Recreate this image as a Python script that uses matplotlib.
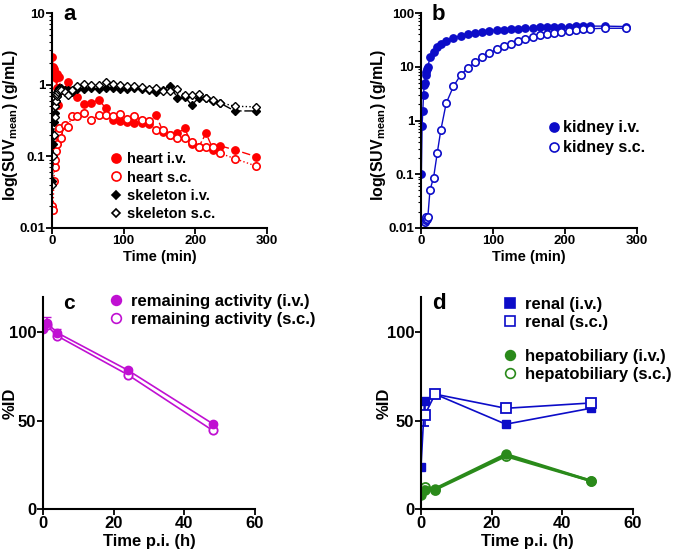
import numpy as np
import matplotlib
matplotlib.use("Agg")
import matplotlib.pyplot as plt
from matplotlib.lines import Line2D

plt.rcParams['font.family'] = ['Liberation Sans', 'DejaVu Sans']
plt.rcParams['font.weight'] = 'bold'
plt.rcParams['axes.labelweight'] = 'bold'
plt.rcParams['mathtext.fontset'] = 'custom'
plt.rcParams['mathtext.bf'] = 'Liberation Sans:bold'
plt.rcParams['mathtext.rm'] = 'Liberation Sans:bold'

# frame mid-times (min) for the PET time-activity curves
t_min = [0.5, 1.5, 2.5, 3.5, 4.5, 5.5, 6.5, 7.5, 8.5, 9.5,
         12.5, 17.5, 22.5, 27.5, 35, 45, 55, 65, 75, 85, 95, 105, 115,
         125, 135, 145, 155, 165, 175, 185, 195, 205, 215, 225, 235, 255, 285]

heart_iv = [2.45, 1.75, 1.65, 1.45, 1.35, 1.25, 0.9, 1.4, 0.52, 1.3,
            0.85, 0.85, 1.1, 0.82, 0.68, 0.54, 0.55, 0.62, 0.47, 0.32, 0.31, 0.30, 0.29,
            0.29, 0.28, 0.38, 0.22, 0.20, 0.21, 0.245, 0.15, 0.137, 0.21, 0.123, 0.14, 0.123, 0.099]
heart_sc = [0.02, 0.018, 0.045, 0.07, 0.09, 0.12, 0.15, 0.2, 0.22, 0.25,
            0.18, 0.27, 0.26, 0.36, 0.36, 0.40, 0.32, 0.38, 0.38, 0.36, 0.39, 0.33, 0.36,
            0.32, 0.31, 0.235, 0.23, 0.20, 0.18, 0.18, 0.16, 0.137, 0.135, 0.135, 0.11, 0.093, 0.073]
skel_iv = [0.045, 0.15, 0.3, 0.4, 0.5, 0.6, 0.7, 0.8, 0.85, 0.9,
           0.9, 0.85, 0.85, 0.8, 0.88, 0.88, 0.9, 0.88, 0.9, 0.9, 0.88, 0.88, 0.9,
           0.88, 0.85, 0.8, 0.85, 0.97, 0.65, 0.68, 0.52, 0.66, 0.65, 0.6, 0.55, 0.43, 0.43]
skel_sc = [0.04, 0.1, 0.2, 0.35, 0.5, 0.6, 0.7, 0.75, 0.8, 0.85,
           0.85, 0.8, 0.72, 0.85, 0.95, 1.02, 1.0, 1.0, 1.08, 1.02, 0.98, 0.95, 0.95,
           0.92, 0.88, 0.9, 0.82, 0.82, 0.86, 0.72, 0.72, 0.75, 0.66, 0.62, 0.56, 0.5, 0.49]

kidney_iv = [0.1, 0.8, 1.5, 3.0, 4.5, 5.0, 7.0, 8.0, 9.0, 10.0,
             15, 19, 23, 27, 30, 34, 38, 41, 43, 45, 47, 48, 49,
             50, 51, 52, 53, 54, 55, 55, 56, 56, 57, 57, 57, 57, 56]
kidney_sc = [np.nan, np.nan, np.nan, np.nan, np.nan, 0.013, 0.014, 0.016, 0.015, 0.016,
             0.051, 0.087, 0.245, 0.66, 2.1, 4.3, 7.0, 9.5, 12, 15, 18, 21, 24,
             27, 30, 33, 36, 39, 41, 43, 45, 47, 49, 50, 51, 52, 52]

# excretion / whole body (h p.i.)
t_rem_iv = [0, 1, 4, 24, 48]
rem_iv = [101.7, 105.5, 99.8, 78.6, 48.3]
rem_iv_err = [0, 3, 2, 1, 1]
t_rem_sc = [1, 4, 24, 48]
rem_sc = [104, 98, 76, 44.5]

t_renal_iv = [0, 1, 4, 24, 48]
renal_iv = [24, 61, 65, 48, 57]
t_renal_sc = [1, 4, 24, 48]
renal_sc = [53, 65, 57, 60]
renal_sc_err = [6, 1, 1, 2]
t_hep_iv = [0, 1, 4, 24, 48]
hep_iv = [8, 11, 11.5, 31, 16]
t_hep_sc = [1, 4, 24, 48]
hep_sc = [12.5, 11, 30, 16]

RED = '#ff0000'
BLUE = '#0c0cc8'
PURPLE = '#c010d2'
GREEN = '#2a8a1a'

fig = plt.figure(figsize=(6.75, 5.59), dpi=100)
W, H = 675.0, 559.0
LEG = dict(frameon=False, handlelength=0.8, handletextpad=0.5, borderaxespad=0,
           prop={'weight': 'bold', 'size': 12})


def make_ax(l, r, b, t, tick_size):
    ax = fig.add_axes([l / W, 1 - b / H, (r - l) / W, (b - t) / H])
    for s in ['top', 'right']:
        ax.spines[s].set_visible(False)
    for s in ['left', 'bottom']:
        ax.spines[s].set_linewidth(1.5)
    ax.tick_params(axis='both', which='major', width=1.3, length=4, labelsize=tick_size, pad=1)
    ax.tick_params(axis='both', which='minor', width=0.8, length=2.5)
    return ax


def style_labels(ax):
    for lab in ax.get_xticklabels() + ax.get_yticklabels():
        lab.set_fontweight('bold')


def mk(marker, color, filled, ms, label):
    return Line2D([], [], ls='none', marker=marker, color=color, ms=ms,
                  mfc=color if filled else 'white', mew=1.2, label=label)


# ---- panel a
ax = make_ax(52, 267, 228, 13, 9.5)
ax.plot(t_min, heart_iv, 'o', ls=(0, (6, 2)), color=RED, ms=5.3, lw=1.0)
ax.plot(t_min, heart_sc, 'o', ls=':', color=RED, mfc='white', mew=1.2, ms=5.3, lw=1.0)
ax.plot(t_min, skel_iv, 'D', ls=(0, (6, 2)), color='black', ms=3.8, lw=1.0)
ax.plot(t_min, skel_sc, 'D', ls=':', color='black', mfc='white', mew=1.0, ms=3.8, lw=1.0)
ax.set_yscale('log')
ax.set_ylim(0.01, 10)
ax.set_xlim(0, 300)
ax.set_xticks([0, 100, 200, 300])
ax.set_yticks([0.01, 0.1, 1, 10])
ax.set_yticklabels(['0.01', '0.1', '1', '10'])
ax.set_xlabel('Time (min)', fontsize=10.5, labelpad=2)
ax.set_ylabel(r'log(SUV$_{\mathbf{mean}}$) (g/mL)', fontsize=11.5)
ax.yaxis.set_label_coords(-0.148, 0.48)
ax.legend(handles=[mk('o', RED, True, 6.5, 'heart i.v.'), mk('o', RED, False, 6.5, 'heart s.c.'),
                   mk('D', 'black', True, 4.5, 'skeleton i.v.'), mk('D', 'black', False, 4.5, 'skeleton s.c.')],
          loc='upper left', bbox_to_anchor=(0.25, 0.38), labelspacing=0.3,
          **dict(LEG, handlelength=0.6, handletextpad=0.45, prop={'weight': 'bold', 'size': 10.5}))
style_labels(ax)
fig.text(63 / W, 1 - 20 / H, 'a', fontsize=16, fontweight='bold')

# ---- panel b
ax = make_ax(421, 637, 228, 13, 9.5)
ax.plot(t_min, kidney_iv, 'o', ls='-', color=BLUE, ms=5.3, lw=1.0)
ax.plot(t_min, kidney_sc, 'o', ls='-', color=BLUE, mfc='white', mew=1.2, ms=5.3, lw=1.0)
ax.set_yscale('log')
ax.set_ylim(0.01, 100)
ax.set_xlim(0, 300)
ax.set_xticks([0, 100, 200, 300])
ax.set_yticks([0.01, 0.1, 1, 10, 100])
ax.set_yticklabels(['0.01', '0.1', '1', '10', '100'])
ax.set_xlabel('Time (min)', fontsize=10.5, labelpad=2)
ax.set_ylabel(r'log(SUV$_{\mathbf{mean}}$) (g/mL)', fontsize=11.5)
ax.yaxis.set_label_coords(-0.155, 0.48)
ax.legend(handles=[mk('o', BLUE, True, 6.5, 'kidney i.v.'), mk('o', BLUE, False, 6.5, 'kidney s.c.')],
          loc='upper left', bbox_to_anchor=(0.565, 0.53), labelspacing=0.3,
          **dict(LEG, handlelength=0.6, handletextpad=0.25, prop={'weight': 'bold', 'size': 11.5}))
style_labels(ax)
fig.text(432 / W, 1 - 20 / H, 'b', fontsize=16, fontweight='bold')

# ---- panel c
ax = make_ax(43, 255, 509, 297, 12)
ax.errorbar(t_rem_iv, rem_iv, yerr=[np.zeros(5), rem_iv_err], fmt='o', ls='-', color=PURPLE,
            ms=6, lw=1.2, capsize=3)
ax.plot(t_rem_sc, rem_sc, 'o', ls='-', color=PURPLE, mfc='white', mew=1.3, ms=6, lw=1.2)
ax.set_xlim(0, 60)
ax.set_ylim(0, 120)
ax.set_xticks([0, 20, 40, 60])
ax.set_yticks([0, 50, 100])
ax.set_xlabel('Time p.i. (h)', fontsize=12, labelpad=2)
ax.set_ylabel('%ID', fontsize=12)
ax.yaxis.set_label_coords(-0.12, 0.5)
ax.legend(handles=[mk('o', PURPLE, True, 7, 'remaining activity (i.v.)'),
                   mk('o', PURPLE, False, 7, 'remaining activity (s.c.)')],
          loc='upper left', bbox_to_anchor=(0.282, 1.045), labelspacing=0.15, **LEG)
style_labels(ax)
fig.text(63 / W, 1 - 309 / H, 'c', fontsize=15, fontweight='bold')

# ---- panel d
ax = make_ax(421, 633, 509, 297, 12)
ax.plot(t_renal_iv, renal_iv, 's', ls='-', color=BLUE, ms=6, lw=1.2)
ax.errorbar(t_renal_sc, renal_sc, yerr=renal_sc_err, fmt='s', ls='-', color=BLUE,
            mfc='white', mew=1.3, ms=6.5, lw=1.2, capsize=3)
ax.plot(t_hep_iv, hep_iv, 'o', ls='-', color=GREEN, ms=6.5, lw=2.0)
ax.plot(t_hep_sc, hep_sc, 'o', ls='-', color=GREEN, mfc='none', mew=1.3, ms=6.5, lw=2.0)
ax.set_xlim(0, 60)
ax.set_ylim(0, 120)
ax.set_xticks([0, 20, 40, 60])
ax.set_yticks([0, 50, 100])
ax.set_xlabel('Time p.i. (h)', fontsize=12, labelpad=2)
ax.set_ylabel('%ID', fontsize=12)
ax.yaxis.set_label_coords(-0.137, 0.5)
leg1 = ax.legend(handles=[mk('s', BLUE, True, 6.5, 'renal (i.v.)'), mk('s', BLUE, False, 6.5, 'renal (s.c.)')],
                 loc='upper left', bbox_to_anchor=(0.357, 1.031), labelspacing=0.15, **LEG)
ax.add_artist(leg1)
ax.legend(handles=[mk('o', GREEN, True, 7, 'hepatobiliary (i.v.)'), mk('o', GREEN, False, 7, 'hepatobiliary (s.c.)')],
          loc='upper left', bbox_to_anchor=(0.357, 0.786), labelspacing=0.15, **LEG)
style_labels(ax)
fig.text(432 / W, 1 - 309 / H, 'd', fontsize=16, fontweight='bold')

fig.savefig('out.png', dpi=100)
